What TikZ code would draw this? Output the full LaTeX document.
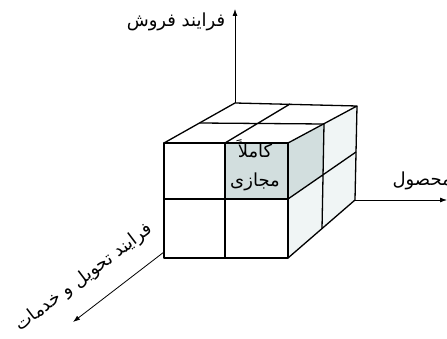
\documentclass[tikz,border=0pt]{standalone}
\usepackage{fontspec}
\newfontfamily\arabicfont[Script=Arabic]{DejaVu Sans}
\TeXXeTstate=1
\usetikzlibrary{arrows.meta}
\definecolor{cellgray}{RGB}{210,222,222}
\definecolor{celllight}{RGB}{240,245,245}
\begin{document}
\begin{tikzpicture}[x=1pt,y=-1pt,
  cube/.style={line width=1.3pt, line join=round},
  axis/.style={line width=0.8pt,-{Latex[length=7pt,width=5pt]}},
  lbl/.style={font=\arabicfont\fontsize{18}{20}\selectfont, inner sep=0pt}]
\path[use as bounding box] (0,0) rectangle (447,339);
% corners
\coordinate (A) at (164,143);
\coordinate (Am) at (225,143);
\coordinate (B) at (288,143);
\coordinate (C) at (164,258);
\coordinate (Cm) at (225,258);
\coordinate (D) at (288,258);
\coordinate (Lm) at (164,199);
\coordinate (Rm) at (288,199);
\coordinate (E) at (235,103);
\coordinate (F) at (357,106);
\coordinate (G) at (355,200);
\coordinate (Tb) at (290,104);
\coordinate (Tl) at (199.5,123);
\coordinate (Tr) at (324,124);
\coordinate (Sm) at (356,152);
\coordinate (Sb) at (322,229);
\coordinate (Sc) at (323,175.5);
\coordinate (X0) at (164,252);
\coordinate (Xe) at (73,322);
\coordinate (Ye) at (235,9);
\coordinate (Ze) at (447,200);
% fills
\fill[celllight] (B) -- (F) -- (G) -- (D) -- cycle;
\fill[cellgray] (Am) rectangle (Rm);
\fill[cellgray] (B) -- (Tr) -- (Sc) -- (Rm) -- cycle;
% cube lines
\draw[cube] (A) rectangle (D);
\draw[cube] (Am) -- (Cm) (Lm) -- (Rm);
\draw[cube] (A) -- (E) -- (F) -- (B);
\draw[cube] (Am) -- (Tb) (Tl) -- (Tr);
\draw[cube] (F) -- (G) -- (D);
\draw[cube] (Rm) -- (Sm) (Tr) -- (Sb);
% axes
\draw[axis] (E) -- (Ye);
\draw[axis] (G) -- (Ze);
\draw[axis] (X0) -- (Xe);
% labels
\node[lbl] (t1) at (176,22) {\beginR فرایند فروش\endR};
\node[lbl] (t2) at (255,149) {\beginR کاملاً\endR};
\node[lbl] (t3) at (255,182) {\beginR مجازی\endR};
\node[lbl,anchor=east] (t4) at (452,181) {\beginR محصول\endR};
\node[lbl,rotate=37] (t5) at (84,278) {\beginR فرایند تحویل و خدمات\endR};
\end{tikzpicture}
\end{document}
